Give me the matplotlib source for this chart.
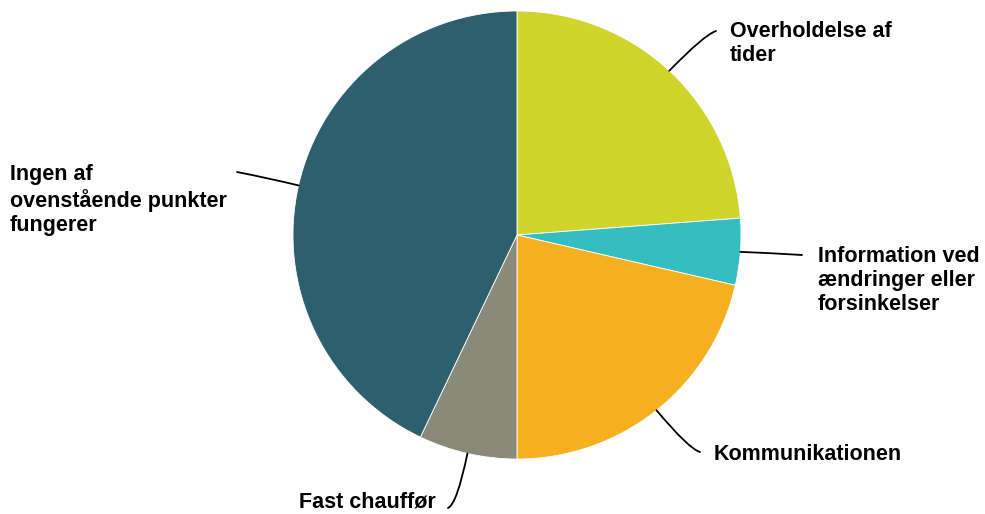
import matplotlib
matplotlib.use("Agg")
import matplotlib.pyplot as plt
import numpy as np
from matplotlib.path import Path
from matplotlib.patches import PathPatch

labels = ["Overholdelse af\ntider",
          "Information ved\nændringer eller\nforsinkelser",
          "Kommunikationen",
          "Fast chauffør",
          "Ingen af\novenstående punkter\nfungerer"]
values = [23.8, 4.8, 21.4, 7.1, 42.9]
colors = ["#CFD52A", "#34BEC1", "#F6AF1E", "#8A8A7A", "#2E5F6C"]

W, H = 985, 514
fig = plt.figure(figsize=(W / 100, H / 100), dpi=100)
ax = fig.add_axes([0, 0, 1, 1])

cx, cy_px, R = 517, 235, 224
cy = H - cy_px
wedges, _ = ax.pie(values, colors=colors, startangle=90, counterclock=False,
                   center=(cx, cy), radius=R,
                   wedgeprops=dict(edgecolor="white", linewidth=0.6))
ax.set_xlim(0, W)
ax.set_ylim(0, H)
ax.set_aspect("equal")
ax.axis("off")

# leader line ends (pixel coords), control points and text anchors
ends = [(716, 31), (802, 255), (700, 452), (448, 508), (237, 172)]
ctrls = [(704, 35), (770, 253), (689, 449), (457, 504), (268, 178)]
texts = [(730, 21, "left"), (818, 246, "left"), (714, 444, "left"),
         (299, 492, "left"), (10, 164, "left")]

for w, e, c, t, lab in zip(wedges, ends, ctrls, texts, labels):
    mid = np.deg2rad((w.theta1 + w.theta2) / 2)
    sx, sy = cx + R * np.cos(mid), cy + R * np.sin(mid)
    path = Path([(sx, sy), (c[0], H - c[1]), (e[0], H - e[1])],
                [Path.MOVETO, Path.CURVE3, Path.CURVE3])
    ax.add_patch(PathPatch(path, facecolor="none", edgecolor="black", lw=1.3,
                           capstyle="round"))
    ax.text(t[0], H - t[1], lab, ha=t[2], va="top", fontsize=15.5,
            fontweight="bold", family="Liberation Sans", color="black",
            linespacing=1.2)

fig.savefig("out.png", dpi=100)
